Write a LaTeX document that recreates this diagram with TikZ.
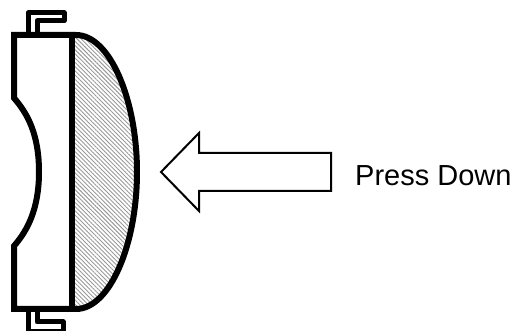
\documentclass[tikz,border=0pt]{standalone}
\usepackage{fontspec}
\setmainfont{Liberation Sans}
\usetikzlibrary{patterns.meta,positioning}
\tikzset{
	outline/.style={line width=6pt,line join=miter},
	clip arm/.style={line width=5pt,line join=round},
	hatched/.style={pattern={Lines[angle=-45,distance=3pt,line width=0.9pt]},pattern color=black!40},
	press arrow/.style={draw,line width=2pt,line join=miter,fill=white},
}
\begin{document}
\begin{tikzpicture}[x=1pt,y=-1pt]
		\useasboundingbox (0,0) rectangle (515,331);
		% shell
		\fill[hatched] (72,35) -- (76,35) .. controls (110,35) and (137,100) .. (137,172) .. controls (137,244) and (110,309) .. (76,309) -- (72,309) -- cycle;
		\draw[clip arm] (28,33) -- (28,13) -- (64,13) -- (64,21) -- (37,21) -- (37,33);
		\draw[clip arm] (28,311) -- (28,332) -- (63,332) -- (63,322) -- (37,322) -- (37,311);
		\draw[outline] (76,35) -- (14,35) -- (14,98) .. controls (28,114) and (39,135) .. (39,172) .. controls (39,208) and (28,230) .. (14,246) -- (14,309) -- (76,309);
		\draw[outline] (72,35) -- (72,309);
		\draw[outline] (76,35) .. controls (110,35) and (137,100) .. (137,172) .. controls (137,244) and (110,309) .. (76,309);
		% arrow
		\draw[press arrow] (161,172) -- (199,133) -- (199,153) -- (331,153) -- (331,191) -- (199,191) -- (199,211) -- cycle;
		\node[anchor=base west,inner sep=0pt,font=\fontsize{29}{30}\selectfont] (presslabel) at (355,186) {Press Down};
	\end{tikzpicture}
\end{document}
